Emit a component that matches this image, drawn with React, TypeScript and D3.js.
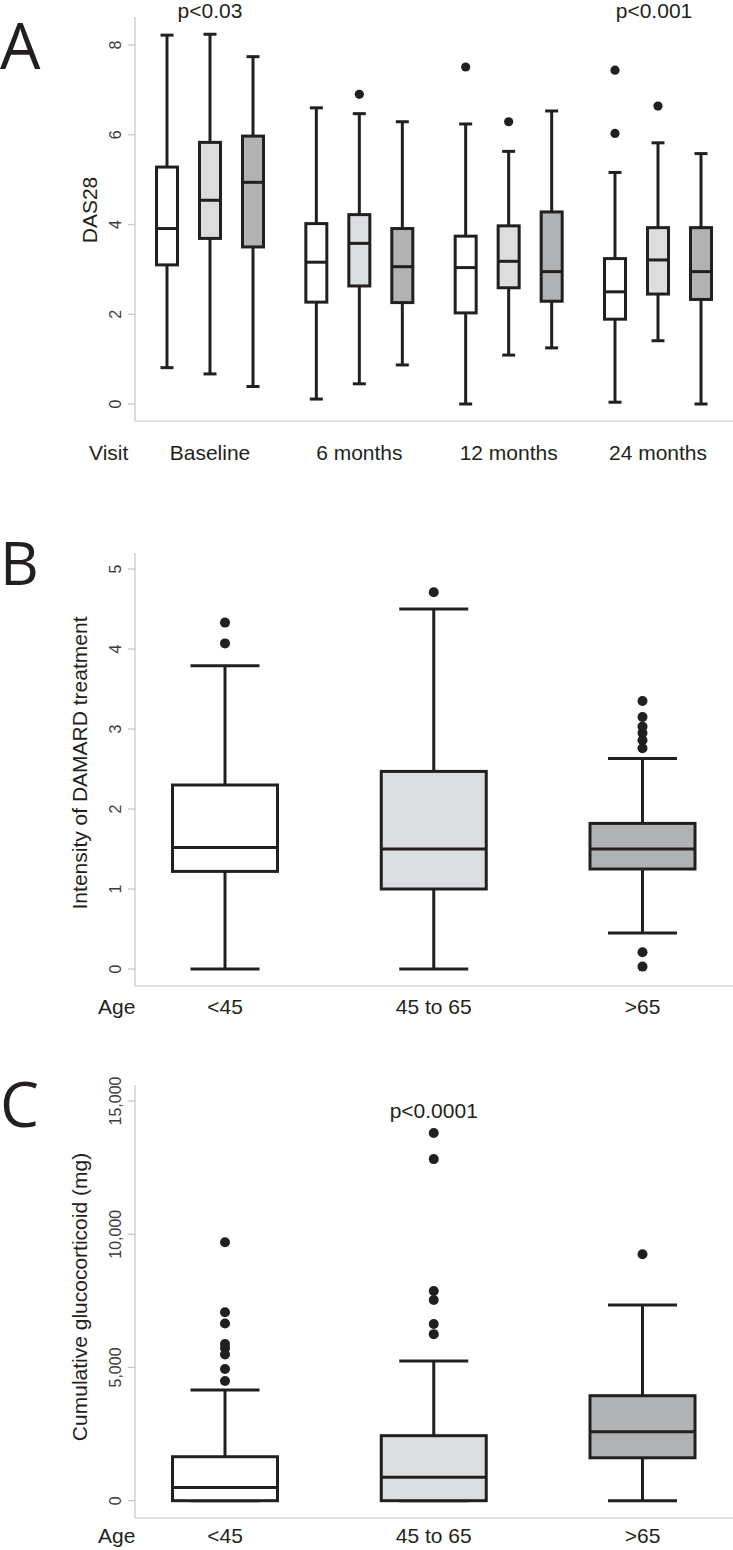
import React from 'react';
import * as d3 from 'd3';

type Box = { min: number; q1: number; median: number; q3: number; max: number; outliers: number[] };

const visits = ['Baseline', '6 months', '12 months', '24 months'];
const ageGroups = ['<45', '45 to 65', '>65'];
const groupFills = ['#ffffff', '#dcdddf', '#b1b2b4'];

// Panel A: DAS28 by visit, one series per age group
const das28Under45: Box[] = [
  { min: 0.81, q1: 3.1, median: 3.91, q3: 5.28, max: 8.22, outliers: [] },
  { min: 0.11, q1: 2.27, median: 3.16, q3: 4.02, max: 6.6, outliers: [] },
  { min: 0.0, q1: 2.03, median: 3.04, q3: 3.74, max: 6.24, outliers: [7.51] },
  { min: 0.04, q1: 1.89, median: 2.5, q3: 3.24, max: 5.16, outliers: [7.44, 6.03] },
];
const das28Age45to65: Box[] = [
  { min: 0.67, q1: 3.69, median: 4.54, q3: 5.83, max: 8.24, outliers: [] },
  { min: 0.45, q1: 2.63, median: 3.58, q3: 4.22, max: 6.47, outliers: [6.9] },
  { min: 1.09, q1: 2.59, median: 3.18, q3: 3.97, max: 5.63, outliers: [6.29] },
  { min: 1.41, q1: 2.45, median: 3.21, q3: 3.93, max: 5.82, outliers: [6.64] },
];
const das28Over65: Box[] = [
  { min: 0.39, q1: 3.5, median: 4.94, q3: 5.97, max: 7.74, outliers: [] },
  { min: 0.87, q1: 2.26, median: 3.06, q3: 3.91, max: 6.29, outliers: [] },
  { min: 1.25, q1: 2.29, median: 2.95, q3: 4.28, max: 6.53, outliers: [] },
  { min: 0.0, q1: 2.33, median: 2.95, q3: 3.93, max: 5.58, outliers: [] },
];
const das28Series = [das28Under45, das28Age45to65, das28Over65];
const das28Ticks = [0, 2, 4, 6, 8];

// Panel B: intensity of DMARD treatment by age group
const dmardIntensity: Box[] = [
  { min: 0, q1: 1.22, median: 1.52, q3: 2.3, max: 3.79, outliers: [4.33, 4.07] },
  { min: 0, q1: 1.0, median: 1.5, q3: 2.47, max: 4.5, outliers: [4.71] },
  { min: 0.45, q1: 1.25, median: 1.5, q3: 1.82, max: 2.63, outliers: [3.35, 3.15, 3.03, 2.95, 2.86, 2.76, 0.21, 0.03] },
];
const dmardTicks = [0, 1, 2, 3, 4, 5];

// Panel C: cumulative glucocorticoid (mg) by age group
const glucocorticoidMg: Box[] = [
  { min: 0, q1: 0, median: 500, q3: 1650, max: 4150, outliers: [9700, 7070, 6650, 5880, 5720, 5490, 4940, 4490] },
  { min: 0, q1: 0, median: 880, q3: 2440, max: 5240, outliers: [13800, 12820, 7870, 7530, 6630, 6250] },
  { min: 0, q1: 1610, median: 2590, q3: 3940, max: 7340, outliers: [9250] },
];
const glucocorticoidTicks = [0, 5000, 10000, 15000];

const INK = '#231f20';
const AXIS = '#c4c4c4';
const TICKTXT = '#3c3c3c';
const FONT = '"Liberation Sans", Arial, Helvetica, sans-serif';
const LETTER_FONT = '"Open Sans", "Noto Sans", sans-serif';

function BoxMark({ cx, w, capW, b, y, fill, r, sw }: { cx: number; w: number; capW: number; b: Box; y: d3.ScaleLinear<number, number>; fill: string; r: number; sw: number }) {
  return (
    <g>
      <line x1={cx} x2={cx} y1={y(b.max)} y2={y(b.q3)} stroke={INK} strokeWidth={sw} />
      <line x1={cx} x2={cx} y1={y(b.q1)} y2={y(b.min)} stroke={INK} strokeWidth={sw} />
      <line x1={cx - capW / 2} x2={cx + capW / 2} y1={y(b.max)} y2={y(b.max)} stroke={INK} strokeWidth={sw} />
      <line x1={cx - capW / 2} x2={cx + capW / 2} y1={y(b.min)} y2={y(b.min)} stroke={INK} strokeWidth={sw} />
      <rect x={cx - w / 2} y={y(b.q3)} width={w} height={y(b.q1) - y(b.q3)} fill={fill} stroke={INK} strokeWidth={3} />
      <line x1={cx - w / 2} x2={cx + w / 2} y1={y(b.median)} y2={y(b.median)} stroke={INK} strokeWidth={3} />
      {b.outliers.map((o, i) => (
        <circle key={i} cx={cx} cy={y(o)} r={r} fill={INK} />
      ))}
    </g>
  );
}

function YAxis({ y, ticks, top, bottom, fmt }: { y: d3.ScaleLinear<number, number>; ticks: number[]; top: number; bottom: number; fmt: (v: number) => string }) {
  const ax = 135;
  return (
    <g>
      <line x1={ax} x2={ax} y1={top} y2={bottom} stroke={AXIS} strokeWidth={1.2} />
      <line x1={ax} x2={733} y1={bottom} y2={bottom} stroke={AXIS} strokeWidth={1.2} />
      {ticks.map((t) => (
        <g key={t}>
          <line x1={ax - 7} x2={ax} y1={y(t)} y2={y(t)} stroke={AXIS} strokeWidth={1.2} />
          <text transform={`translate(121,${y(t)}) rotate(-90)`} textAnchor="middle" fontSize={16} fill={TICKTXT} fontFamily={FONT}>
            {fmt(t)}
          </text>
        </g>
      ))}
    </g>
  );
}

export default function App() {
  // Panel A scales
  const yA = d3.scaleLinear().domain([0, 8]).range([404, 45]);
  const xA = d3.scalePoint<string>().domain(visits).range([210, 658]);
  const subA = d3.scalePoint<string>().domain(ageGroups).range([-43, 43]);

  // Panel B/C scales
  const xBC = d3.scalePoint<string>().domain(ageGroups).range([225, 642.5]);
  const yB = d3.scaleLinear().domain([0, 5]).range([969, 569]);
  const yC = d3.scaleLinear().domain([0, 15000]).range([1500.7, 1101]);

  const fmtInt = d3.format('d');
  const fmtComma = d3.format(',');

  return (
    <svg width={733} height={1550} style={{ position: 'absolute', left: 0, top: 0, background: '#fff' }} fontFamily={FONT}>
      <rect x={0} y={0} width={733} height={1550} fill="#fff" />

      {/* Panel A */}
      <text x={0} y={69} fontSize={64} fontFamily={LETTER_FONT} fill={INK}>A</text>
      <YAxis y={yA} ticks={das28Ticks} top={17} bottom={421} fmt={fmtInt} />
      <text transform="translate(97,210) rotate(-90)" textAnchor="middle" fontSize={21} fill={INK}>DAS28</text>
      {das28Series.map((series, gi) =>
        series.map((b, vi) => (
          <BoxMark key={`${gi}-${vi}`} cx={(xA(visits[vi]) as number) + (subA(ageGroups[gi]) as number)} w={21} capW={13} b={b} y={yA} fill={groupFills[gi]} r={4.6} sw={3} />
        ))
      )}
      <text x={89} y={460} fontSize={21} fill={INK}>Visit</text>
      {visits.map((v) => (
        <text key={v} x={xA(v) as number} y={460} textAnchor="middle" fontSize={21} fill={INK}>{v}</text>
      ))}
      <text x={xA('Baseline') as number} y={18} textAnchor="middle" fontSize={21} fill={INK}>p&lt;0.03</text>
      <text x={(xA('24 months') as number) - 4} y={18} textAnchor="middle" fontSize={21} fill={INK}>p&lt;0.001</text>

      {/* Panel B */}
      <text x={0} y={585} fontSize={60} fontFamily={LETTER_FONT} fill={INK}>B</text>
      <YAxis y={yB} ticks={dmardTicks} top={553} bottom={986} fmt={fmtInt} />
      <text transform="translate(87,763) rotate(-90)" textAnchor="middle" fontSize={21} fill={INK}>Intensity of DAMARD treatment</text>
      {dmardIntensity.map((b, i) => (
        <BoxMark key={i} cx={xBC(ageGroups[i]) as number} w={105} capW={69} b={b} y={yB} fill={groupFills[i]} r={5} sw={3} />
      ))}
      <text x={98} y={1014} fontSize={21} fill={INK}>Age</text>
      {ageGroups.map((g) => (
        <text key={g} x={xBC(g) as number} y={1014} textAnchor="middle" fontSize={21} fill={INK}>{g}</text>
      ))}

      {/* Panel C */}
      <text x={0} y={1127} fontSize={62} fontFamily={LETTER_FONT} fill={INK}>C</text>
      <YAxis y={yC} ticks={glucocorticoidTicks} top={1085} bottom={1518} fmt={fmtComma} />
      <text transform="translate(87,1297) rotate(-90)" textAnchor="middle" fontSize={21} fill={INK}>Cumulative glucocorticoid (mg)</text>
      {glucocorticoidMg.map((b, i) => (
        <BoxMark key={i} cx={xBC(ageGroups[i]) as number} w={105} capW={69} b={b} y={yC} fill={groupFills[i]} r={5} sw={3} />
      ))}
      <text x={98} y={1543} fontSize={21} fill={INK}>Age</text>
      {ageGroups.map((g) => (
        <text key={g} x={xBC(g) as number} y={1543} textAnchor="middle" fontSize={21} fill={INK}>{g}</text>
      ))}
      <text x={xBC('45 to 65') as number} y={1118} textAnchor="middle" fontSize={21} fill={INK}>p&lt;0.0001</text>
    </svg>
  );
}
